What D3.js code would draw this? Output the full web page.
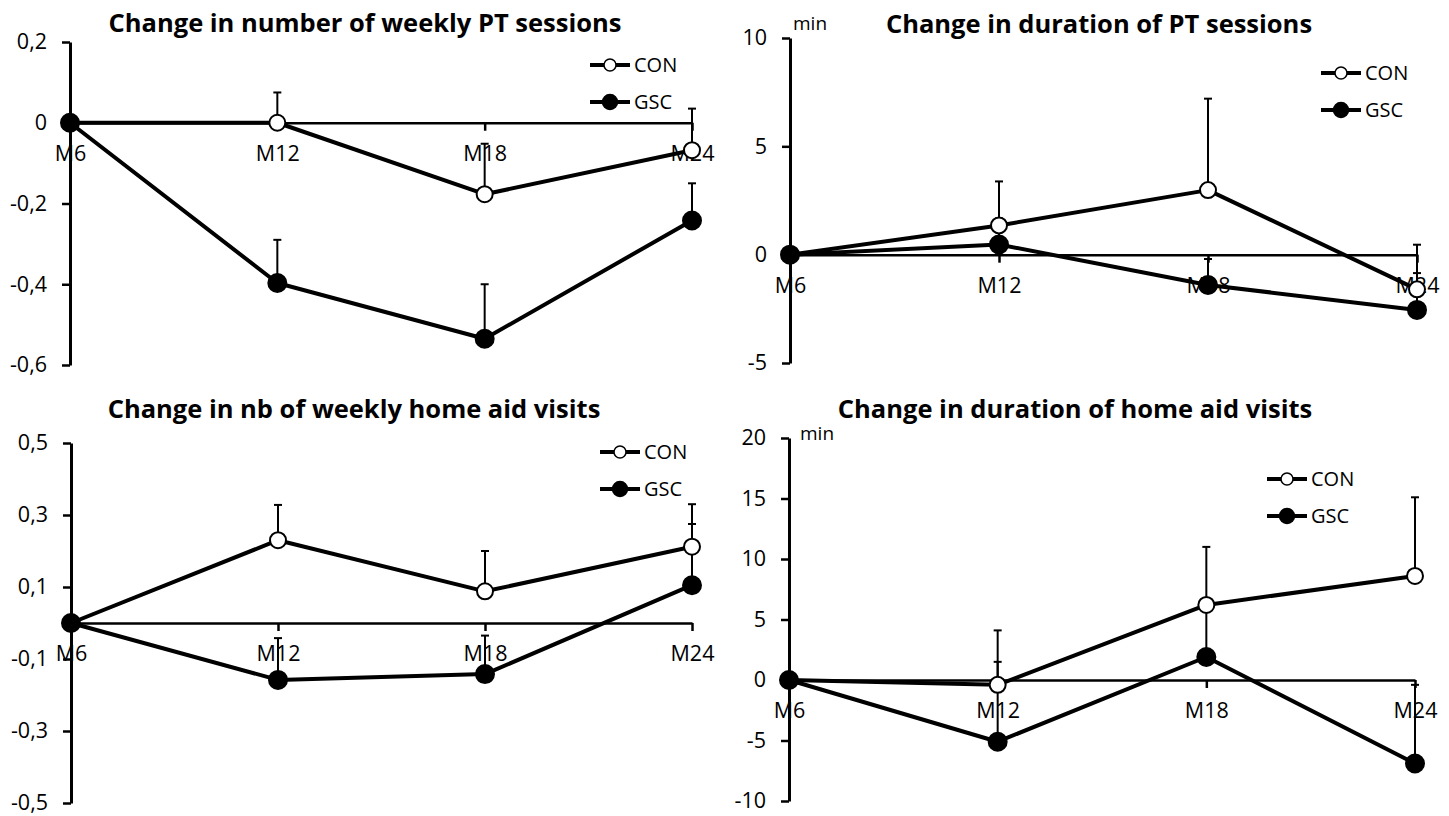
<!DOCTYPE html>
<html>
<head>
<meta charset="utf-8">
<script src="https://cdn.jsdelivr.net/npm/d3@7"></script>
<style>
  body { margin: 0; background: #fff; }
  svg { display: block; font-family: "Open Sans", sans-serif; }
</style>
</head>
<body>
<div id="chart"></div>
<script>
"use strict";

// categories
var months = ["M6", "M12", "M18", "M24"];

// change in number of weekly PT sessions
var ptNbCon    = [0, 0, -0.177, -0.068];
var ptNbConErr = [0, 0.075, 0.125, 0.103];
var ptNbGsc    = [0, -0.397, -0.535, -0.242];
var ptNbGscErr = [0, 0.107, 0.135, 0.092];
var ptNbTicks  = [0.2, 0, -0.2, -0.4, -0.6];

// change in duration of PT sessions (min)
var ptDurCon    = [0, 1.35, 2.98, -1.6];
var ptDurConErr = [0, 2.03, 4.22, 2.06];
var ptDurGsc    = [0, 0.47, -1.4, -2.55];
var ptDurGscErr = [0, 1.2, 1.2, 1.7];
var ptDurTicks  = [10, 5, 0, -5];

// change in nb of weekly home aid visits
var homeNbCon    = [0, 0.23, 0.088, 0.212];
var homeNbConErr = [0, 0.098, 0.112, 0.118];
var homeNbGsc    = [0, -0.158, -0.142, 0.105];
var homeNbGscErr = [0, 0.116, 0.107, 0.17];
var homeNbTicks  = [0.5, 0.3, 0.1, -0.1, -0.3, -0.5];

// change in duration of home aid visits (min)
var homeDurCon    = [0, -0.4, 6.2, 8.6];
var homeDurConErr = [0, 4.5, 4.8, 6.5];
var homeDurGsc    = [0, -5.1, 1.9, -6.9];
var homeDurGscErr = [0, 6.6, 4.0, 6.5];
var homeDurTicks  = [20, 15, 10, 5, 0, -5, -10];

var seriesNames = ["CON", "GSC"];

var W = 1449, H = 816;

var svg = d3.select("#chart").append("svg")
  .attr("width", W)
  .attr("height", H);

// panel layout
var panels = [
  { title: "Change in number of weekly PT sessions", unit: null,
    con: ptNbCon, conErr: ptNbConErr, gsc: ptNbGsc, gscErr: ptNbGscErr,
    ticks: ptNbTicks, x0: 70, x1: 692, yTop: 42, yBot: 365,
    titleX: 365, titleY: 32, legX: 610, legY: 65 },
  { title: "Change in duration of PT sessions", unit: { x: 793, y: 30 },
    con: ptDurCon, conErr: ptDurConErr, gsc: ptDurGsc, gscErr: ptDurGscErr,
    ticks: ptDurTicks, x0: 790, x1: 1417, yTop: 38, yBot: 363,
    titleX: 1099, titleY: 33, legX: 1341, legY: 73 },
  { title: "Change in nb of weekly home aid visits", unit: null,
    con: homeNbCon, conErr: homeNbConErr, gsc: homeNbGsc, gscErr: homeNbGscErr,
    ticks: homeNbTicks, x0: 71, x1: 692, yTop: 443, yBot: 803,
    titleX: 354, titleY: 418, legX: 620, legY: 452 },
  { title: "Change in duration of home aid visits", unit: { x: 800, y: 440 },
    con: homeDurCon, conErr: homeDurConErr, gsc: homeDurGsc, gscErr: homeDurGscErr,
    ticks: homeDurTicks, x0: 789, x1: 1415, yTop: 438, yBot: 801,
    titleX: 1075, titleY: 418, legX: 1287, legY: 479 }
];

function fmt(v) {
  return String(+v.toFixed(2)).replace(".", ",");
}

function drawPanel(p) {
  var g = svg.append("g");

  var x = d3.scalePoint().domain(months).range([p.x0, p.x1]).padding(0);
  var y = d3.scaleLinear()
    .domain([d3.min(p.ticks), d3.max(p.ticks)])
    .range([p.yBot, p.yTop]);

  // title
  g.append("text")
    .attr("x", p.titleX)
    .attr("y", p.titleY)
    .attr("text-anchor", "middle")
    .attr("font-size", 25.5)
    .attr("font-weight", "bold")
    .attr("fill", "#000")
    .text(p.title);

  if (p.unit) {
    g.append("text")
      .attr("x", p.unit.x)
      .attr("y", p.unit.y)
      .attr("font-size", 19)
      .attr("fill", "#000")
      .text("min");
  }

  // y axis
  var yAxis = g.append("g")
    .attr("transform", "translate(" + p.x0 + ",0)")
    .call(d3.axisLeft(y).tickValues(p.ticks).tickSize(8).tickSizeOuter(0)
      .tickPadding(15).tickFormat(fmt));
  yAxis.select(".domain").attr("stroke-width", 3);

  // x axis crossing at zero
  var xAxis = g.append("g")
    .attr("transform", "translate(0," + y(0) + ")")
    .call(d3.axisBottom(x).tickSize(8).tickSizeOuter(0).tickPadding(15));
  xAxis.select(".domain").attr("stroke-width", 2.5);

  [yAxis, xAxis].forEach(function(a) {
    a.attr("font-size", 21.5).attr("font-family", "Open Sans, sans-serif");
    a.selectAll(".tick line").attr("stroke-width", 2.5);
    a.selectAll(".tick text").attr("fill", "#000");
  });

  var line = d3.line()
    .x(function(d, i) { return x(months[i]); })
    .y(function(d) { return y(d); });

  var series = [
    { vals: p.con, err: p.conErr, fill: "#fff", r: 8 },
    { vals: p.gsc, err: p.gscErr, fill: "#000", r: 9 }
  ];

  series.forEach(function(s) {
    g.append("path")
      .datum(s.vals)
      .attr("d", line)
      .attr("fill", "none")
      .attr("stroke", "#000")
      .attr("stroke-width", 4)
      .attr("stroke-linejoin", "round");
  });

  // error bars (upper only)
  series.forEach(function(s) {
    var bars = g.append("g").selectAll("g")
      .data(s.vals.map(function(v, i) { return { m: months[i], v: v, e: s.err[i] }; })
        .filter(function(d) { return d.e > 0; }))
      .enter().append("g");
    bars.append("line")
      .attr("x1", function(d) { return x(d.m); })
      .attr("x2", function(d) { return x(d.m); })
      .attr("y1", function(d) { return y(d.v); })
      .attr("y2", function(d) { return y(d.v + d.e); })
      .attr("stroke", "#000")
      .attr("stroke-width", 2);
    bars.append("line")
      .attr("x1", function(d) { return x(d.m) - 4; })
      .attr("x2", function(d) { return x(d.m) + 4; })
      .attr("y1", function(d) { return y(d.v + d.e); })
      .attr("y2", function(d) { return y(d.v + d.e); })
      .attr("stroke", "#000")
      .attr("stroke-width", 2);
  });

  series.forEach(function(s) {
    g.append("g").selectAll("circle")
      .data(s.vals)
      .enter().append("circle")
      .attr("cx", function(d, i) { return x(months[i]); })
      .attr("cy", function(d) { return y(d); })
      .attr("r", s.r)
      .attr("fill", s.fill)
      .attr("stroke", "#000")
      .attr("stroke-width", 2);
  });

  // legend
  var leg = g.append("g").selectAll("g")
    .data(seriesNames)
    .enter().append("g")
    .attr("transform", function(d, i) { return "translate(" + p.legX + "," + (p.legY + i * 37) + ")"; });
  leg.append("line")
    .attr("x1", -20).attr("x2", 20)
    .attr("stroke", "#000")
    .attr("stroke-width", 4);
  leg.append("circle")
    .attr("r", function(d, i) { return i === 0 ? 6 : 7.5; })
    .attr("fill", function(d, i) { return i === 0 ? "#fff" : "#000"; })
    .attr("stroke", "#000")
    .attr("stroke-width", 1.5);
  leg.append("text")
    .attr("x", 24)
    .attr("dy", "0.35em")
    .attr("font-size", 20)
    .attr("fill", "#000")
    .text(function(d) { return d; });
}

panels.forEach(drawPanel);
</script>
</body>
</html>
